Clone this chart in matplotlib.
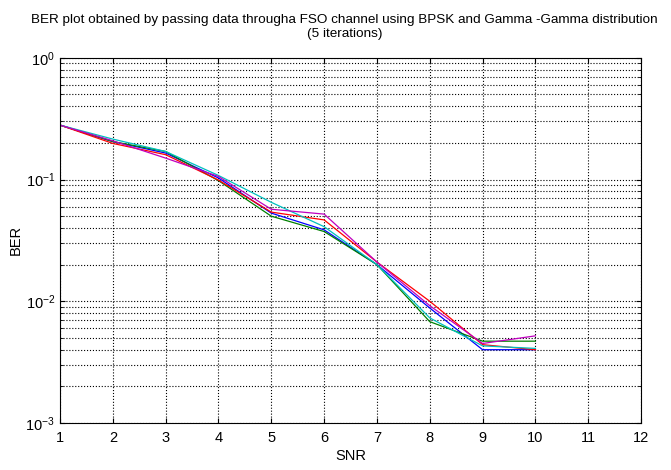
import matplotlib
matplotlib.use("Agg")
import matplotlib.pyplot as plt

plt.rcParams['font.family'] = ['Liberation Sans', 'DejaVu Sans']

snr = [1, 2, 3, 4, 5, 6, 7, 8, 9, 10]
ber_blue = [0.28, 0.205, 0.165, 0.103, 0.053, 0.0386, 0.020, 0.0088, 0.0040, 0.0040]
ber_green = [0.28, 0.205, 0.170, 0.098, 0.050, 0.0374, 0.020, 0.0068, 0.0047, 0.0047]
ber_red = [0.28, 0.198, 0.160, 0.099, 0.054, 0.0466, 0.021, 0.0100, 0.0044, 0.0040]
ber_cyan = [0.28, 0.215, 0.170, 0.108, 0.065, 0.041, 0.020, 0.0073, 0.0043, 0.0041]
ber_magenta = [0.28, 0.208, 0.150, 0.106, 0.057, 0.052, 0.021, 0.0092, 0.0045, 0.0052]

fig = plt.figure(figsize=(6.71, 4.70), dpi=100)
ax = fig.add_axes([0.0894, 0.100, 0.866, 0.777])

for ber, c in [(ber_blue, 'b'), (ber_green, 'g'), (ber_red, 'r'),
               (ber_cyan, 'c'), (ber_magenta, 'm')]:
    ax.semilogy(snr, ber, color=c, linewidth=0.9)

ax.set_xlim(1, 12)
ax.set_ylim(1e-3, 1)
ax.set_xticks(range(1, 13))
ax.grid(True, which='major', linestyle=':', color='k', linewidth=0.8)
ax.grid(True, which='minor', axis='y', linestyle=':', color='k', linewidth=0.8)
ax.tick_params(which='both', direction='in', top=True, right=True, labelsize=10.5)
ax.tick_params(axis='x', pad=6)
ax.set_xlabel("SNR", fontsize=10.5, labelpad=3)
ax.set_ylabel("BER", fontsize=10.5, labelpad=2)
ax.set_title("BER plot obtained by passing data througha FSO channel using BPSK and Gamma -Gamma distribution\n(5 iterations)",
             fontsize=9.7, pad=15, x=0.49)

fig.savefig("out.png", dpi=100)
